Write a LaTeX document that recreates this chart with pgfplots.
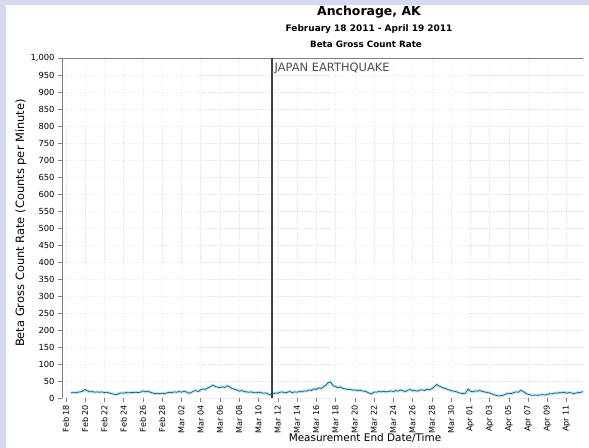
\documentclass[border=0pt]{standalone}
\usepackage{fontspec}
\setmainfont{DejaVu Sans}
\usepackage{pgfplots}
\usepackage{pgfplotstable}
\pgfplotsset{compat=1.18}
\definecolor{bgl}{RGB}{214,218,240}
\definecolor{lineC}{RGB}{32,88,115}
\definecolor{bandC}{RGB}{185,232,244}
\definecolor{gridC}{RGB}{230,230,230}
\pgfplotstableread{
x y
0.50 15
0.75 16
1.00 15
1.25 17
1.50 18
1.75 20
2.00 25
2.25 21
2.50 18
2.75 19
3.00 17
3.25 18
3.50 17
3.75 18
4.00 16
4.25 17
4.50 15
4.75 13
5.00 11
5.25 10
5.50 13
5.75 15
6.00 14
6.25 16
6.50 15
6.75 16
7.00 16
7.25 17
7.50 16
7.75 17
8.00 21
8.25 18
8.50 20
8.75 17
9.00 15
9.25 13
9.50 14
9.75 12
10.00 14
10.25 13
10.50 15
10.75 17
11.00 16
11.25 18
11.50 17
11.75 19
12.00 17
12.25 20
12.50 18
12.75 14
13.00 16
13.25 20
13.50 22
13.75 19
14.00 24
14.25 27
14.50 25
14.75 30
15.00 33
15.25 38
15.50 34
15.75 32
16.00 30
16.25 33
16.50 31
16.75 36
17.00 33
17.25 28
17.50 26
17.75 24
18.00 20
18.25 22
18.50 19
18.75 18
19.00 17
19.25 18
19.50 16
19.75 15
20.00 17
20.25 16
20.50 14
20.75 15
21.00 12
21.25 9
21.50 12
21.75 15
22.00 14
22.25 17
22.50 18
22.75 15
23.00 17
23.25 19
23.50 16
23.75 18
24.00 17
24.25 19
24.50 18
24.75 21
25.00 20
25.25 24
25.50 22
25.75 27
26.00 25
26.25 30
26.50 28
26.75 33
27.00 38
27.25 45
27.50 47
27.75 36
28.00 34
28.25 30
28.50 33
28.75 28
29.00 27
29.25 25
29.50 26
29.75 23
30.00 24
30.25 22
30.50 23
30.75 21
31.00 20
31.25 18
31.50 14
31.75 12
32.00 18
32.25 17
32.50 19
32.75 18
33.00 20
33.25 18
33.50 19
33.75 21
34.00 19
34.25 22
34.50 20
34.75 24
35.00 21
35.25 19
35.50 23
35.75 25
36.00 21
36.25 22
36.50 20
36.75 23
37.00 24
37.25 22
37.50 26
37.75 24
38.00 27
38.25 33
38.50 40
38.75 35
39.00 32
39.25 29
39.50 27
39.75 24
40.00 22
40.25 20
40.50 19
40.75 16
41.00 14
41.25 13
41.50 14
41.75 26
42.00 20
42.25 18
42.50 21
42.75 20
43.00 22
43.25 19
43.50 18
43.75 16
44.00 15
44.25 12
44.50 9
44.75 7
45.00 6
45.25 7
45.50 9
45.75 12
46.00 14
46.25 13
46.50 16
46.75 18
47.00 17
47.25 23
47.50 19
47.75 14
48.00 11
48.25 9
48.50 8
48.75 9
49.00 8
49.25 9
49.50 10
49.75 9
50.00 10
50.25 13
50.50 12
50.75 15
51.00 14
51.25 16
51.50 15
51.75 17
52.00 14
52.25 16
52.50 15
52.75 13
53.00 15
53.25 16
53.50 17
53.75 19
}\rates
\begin{document}
\begin{tikzpicture}[x=1bp,y=1bp]
\useasboundingbox (0,0) rectangle (589,448);
\fill[bgl] (0,0) rectangle (589,448);
\fill[white] (6,0) rectangle (589,443);
\begin{axis}[
  at={(62bp,50bp)}, anchor=south west,
  scale only axis, width=521bp, height=340bp,
  xmin=-0.4, xmax=53.7, ymin=0, ymax=1000,
  xtick={0,2,...,52},
  xticklabels={Feb 18,Feb 20,Feb 22,Feb 24,Feb 26,Feb 28,Mar 02,Mar 04,Mar 06,Mar 08,Mar 10,Mar 12,Mar 14,Mar 16,Mar 18,Mar 20,Mar 22,Mar 24,Mar 26,Mar 28,Mar 30,Apr 01,Apr 03,Apr 05,Apr 07,Apr 09,Apr 11},
  ytick={0,50,...,1000},
  /pgf/number format/1000 sep={,},
  /pgf/number format/assume math mode=true,
  x tick label style={rotate=90, anchor=east, font=\fontsize{8.1}{10}\selectfont},
  y tick label style={font=\fontsize{8.4}{10}\selectfont},
  xtick pos=bottom, ytick pos=left,
  tick align=outside, major tick length=4bp,
  tick style={gray, thin},
  axis line style={draw=none},
  grid=major,
  major grid style={gridC, dash pattern=on 1.5pt off 1.5pt, thin},
  xticklabel shift=-0.5bp, yticklabel shift=0bp,
]
\addplot[bandC, line width=3pt, line join=round] table[x=x, y=y] {\rates};
\addplot[lineC, line width=0.7pt, line join=round] table[x=x, y=y] {\rates};
\draw[gray, thin] (rel axis cs:1,1) -- (rel axis cs:0,1) -- (rel axis cs:0,0) -- (rel axis cs:1,0);
\addplot[black!75, line width=1.8pt] coordinates {(21.4,0) (21.4,1000)};
\node[anchor=north west, inner sep=1bp, text=black!70, font=\fontsize{11.5}{13}\selectfont] at (axis cs:21.55,990) {JAPAN EARTHQUAKE};
\end{axis}
\node[font=\bfseries\fontsize{12.5}{14}\selectfont] at (369,436) {Anchorage, AK};
\node[font=\bfseries\fontsize{9}{11}\selectfont] at (369,419) {February 18 2011 - April 19 2011};
\node[font=\bfseries\fontsize{8.8}{10}\selectfont] at (366,404) {Beta Gross Count Rate};
\node[font=\fontsize{10.5}{12}\selectfont] at (365,9.5) {Measurement End Date/Time};
\node[rotate=90, font=\fontsize{11.5}{13}\selectfont] at (21,225) {Beta Gross Count Rate (Counts per Minute)};
\end{tikzpicture}
\end{document}
